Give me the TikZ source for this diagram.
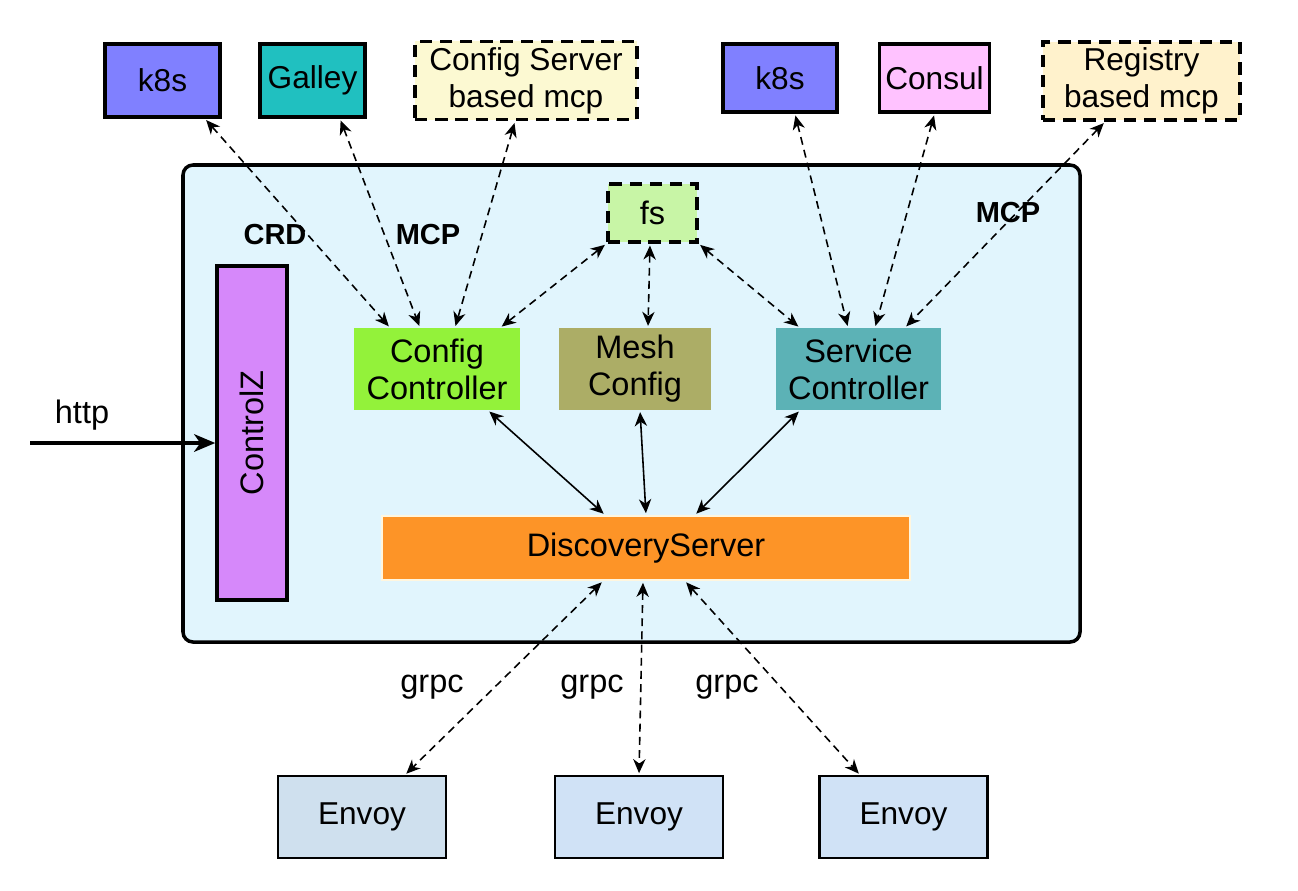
\documentclass[tikz,border=0pt]{standalone}
\usepackage{fontspec}
\setmainfont{Liberation Sans}
\usepackage{graphicx}
\usetikzlibrary{shapes,arrows,arrows.meta}

\definecolor{kubeblue}{HTML}{8080FF}
\definecolor{galleyteal}{HTML}{20C0C0}
\definecolor{cfgyellow}{HTML}{FCF9D2}
\definecolor{consulpink}{HTML}{FFC2FF}
\definecolor{regyellow}{HTML}{FFF2CC}
\definecolor{pilotbg}{HTML}{E1F5FD}
\definecolor{fsgreen}{HTML}{C8F5A6}
\definecolor{zpurple}{HTML}{D688FA}
\definecolor{ccgreen}{HTML}{93F23A}
\definecolor{mesholive}{HTML}{ACAD66}
\definecolor{scteal}{HTML}{5CB2B6}
\definecolor{dsorange}{HTML}{FD9427}
\definecolor{dsedge}{HTML}{FFF6DF}
\definecolor{envoyblue}{HTML}{D0E2F6}
\definecolor{envoygrey}{HTML}{CFE0EE}

\tikzstyle{src} = [rectangle, draw, line width=2pt, align=center, font=\fontsize{18}{21}\selectfont]
\tikzstyle{dashsrc} = [src, dash pattern=on 7pt off 4.5pt]
\tikzstyle{block} = [rectangle, align=center, font=\fontsize{18.5}{21}\selectfont]
\tikzstyle{envoybox} = [rectangle, draw, line width=1.2pt, fill=envoyblue, minimum width=3.36cm, minimum height=1.64cm, font=\fontsize{18}{21}\selectfont]
\tikzstyle{tag} = [font=\bfseries\fontsize{16.5}{18}\selectfont]
\tikzstyle{proto} = [font=\fontsize{18.5}{20}\selectfont]
\tikzstyle{link} = [draw, line width=0.9pt, dash pattern=on 4.5pt off 3pt, {Stealth[length=8pt,width=7pt,inset=2.5pt]}-{Stealth[length=8pt,width=7pt,inset=2.5pt]}, shorten <=1pt, shorten >=1pt]
\tikzstyle{line} = [draw, line width=0.9pt, {Stealth[length=8pt,width=7pt,inset=2.5pt]}-{Stealth[length=8pt,width=7pt,inset=2.5pt]}, shorten <=1pt, shorten >=1pt]

\begin{document}
\begin{tikzpicture}[x=0.2mm, y=-0.2mm]
\useasboundingbox (0,0) rectangle (1298,890);

% pilot

\draw [line width=2pt, fill=pilotbg, rounded corners=0.2cm] (183,165) rectangle (1080,642);

\node [block, draw, line width=2pt, dash pattern=on 7pt off 4.5pt, fill=fsgreen, minimum width=1.78cm, minimum height=1.16cm] at (652.5,213) (fs) {fs};
\node [block, draw, line width=2pt, fill=zpurple, minimum width=1.4cm, minimum height=6.68cm] at (252,433) (controlz) {\rotatebox{90}{ControlZ}};
\node [block, fill=ccgreen, minimum width=3.32cm, minimum height=1.64cm] at (437,369) (cfgctl) {Config\\Controller};
\node [block, fill=mesholive, minimum width=3.04cm, minimum height=1.64cm] at (635,369) (meshcfg) {Mesh\\Config};
\node [block, fill=scteal, minimum width=3.3cm, minimum height=1.64cm] at (858.5,369) (svcctl) {Service\\Controller};
\node [block, draw=dsedge, line width=1.2pt, fill=dsorange, minimum width=10.56cm, minimum height=1.28cm] at (646,548) (discovery) {DiscoveryServer};

\node [tag] at (275,235) (crd) {CRD};
\node [tag] at (428,235) (mcpcfg) {MCP};
\node [tag] at (1008,213) (mcpreg) {MCP};

% config sources

\node [src, fill=kubeblue, minimum width=2.3cm, minimum height=1.46cm] at (162.5,80.5) (k8scfg) {k8s};
\node [src, fill=galleyteal, minimum width=2.1cm, minimum height=1.46cm] at (312.5,80.5) (galley) {Galley};
\node [dashsrc, fill=cfgyellow, minimum width=4.44cm, minimum height=1.46cm] at (526,80.5) (cfgsrv) {Config Server\\based mcp};

\path [link] ([xshift=0.85cm]k8scfg.south) to ([xshift=-0.94cm]cfgctl.north);
\path [link] ([xshift=0.55cm]galley.south) to ([xshift=-0.34cm]cfgctl.north);
\path [link] ([xshift=-0.22cm]cfgsrv.south) to ([xshift=0.36cm]cfgctl.north);

% registry sources

\node [src, fill=kubeblue, minimum width=2.28cm, minimum height=1.36cm] at (780,78) (k8sreg) {k8s};
\node [src, fill=consulpink, minimum width=2.1cm, minimum height=1.36cm] at (934.5,78) (consul) {Consul};
\node [dashsrc, fill=regyellow, minimum width=3.94cm, minimum height=1.48cm] at (1141.5,81) (registry) {Registry\\based mcp};

\path [link] ([xshift=0.3cm]k8sreg.south) to ([xshift=-0.21cm]svcctl.north);
\path [link] (consul.south) to ([xshift=0.33cm]svcctl.north);
\path [link] ([xshift=-0.73cm]registry.south) to ([xshift=0.93cm]svcctl.north);

% fs

\path [link] (fs.south west) to ([xshift=-0.4cm]cfgctl.north east);
\path [link] ([xshift=-0.05cm]fs.south) to ([xshift=0.26cm]meshcfg.north);
\path [link] (fs.south east) to ([xshift=0.48cm]svcctl.north west);

% controllers to discovery

\path [line] ([xshift=1.02cm]cfgctl.south) to ([xshift=-0.82cm]discovery.north);
\path [line] ([xshift=0.1cm]meshcfg.south) to (discovery.north);
\path [line] ([xshift=-1.17cm]svcctl.south) to ([xshift=0.98cm]discovery.north);

% http

\coordinate (httpin) at (30,443);
\node [proto] at (82,415) (http) {http};
\path [draw, line width=2pt, -{Stealth[length=12pt,width=10pt,inset=3.5pt]}] (httpin) to ([yshift=-0.2cm]controlz.west);

% envoys

\node [envoybox, fill=envoygrey] at (362,817) (envoya) {Envoy};
\node [envoybox] at (639,817) (envoyb) {Envoy};
\node [envoybox] at (903.5,817) (envoyc) {Envoy};

\node [proto] at (432,687) (grpca) {grpc};
\node [proto] at (592,687) (grpcb) {grpc};
\node [proto] at (727,687) (grpcc) {grpc};

\path [link] ([xshift=-0.86cm]discovery.south) to ([xshift=0.86cm]envoya.north);
\path [link] ([xshift=-0.06cm]discovery.south) to (envoyb.north);
\path [link] ([xshift=0.78cm]discovery.south) to ([xshift=-0.87cm]envoyc.north);

\end{tikzpicture}
\end{document}
